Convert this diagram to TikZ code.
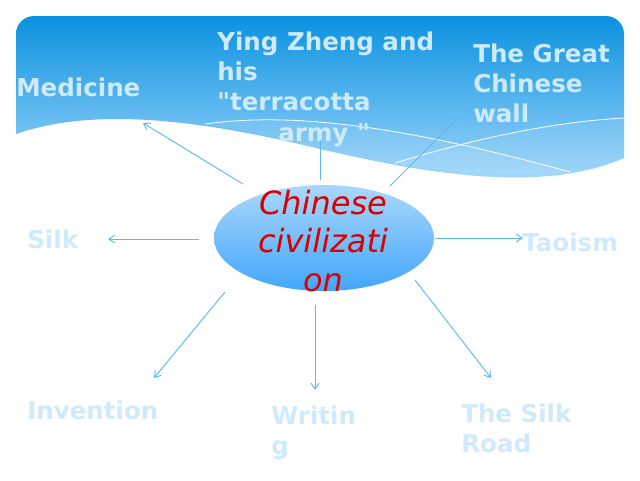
\documentclass[tikz,border=0pt]{standalone}
\usepackage{fontspec}
\usetikzlibrary{shapes.geometric,arrows.meta}
\setmainfont[Ligatures=TeXOff]{DejaVu Sans}
\definecolor{bandTop}{HTML}{0B92E0}
\definecolor{bandBottom}{HTML}{AADBFD}
\definecolor{eggTop}{HTML}{AAD8FC}
\definecolor{eggBottom}{HTML}{42A6FB}
\definecolor{labelBlue}{HTML}{CFEAFB}
\definecolor{lineBlue}{HTML}{5DB9EC}
\tikzset{
	topic/.style={anchor=north west, inner sep=0pt, align=left, text=labelBlue, font=\fontsize{18.4}{22.2}\selectfont\bfseries},
	link/.style={-{Straight Barb[length=4.5pt,width=6pt]}, color=lineBlue, line width=0.7pt},
	plainLink/.style={color=lineBlue, line width=0.7pt},
	waveLine/.style={white, line width=0.6pt},
}
\begin{document}
\begin{tikzpicture}[x=0.75pt,y=-0.75pt]
		\useasboundingbox (0,0) rectangle (640,480);
		% header band
		\shade[top color=bandTop, bottom color=bandBottom] (16,34) .. controls (16,24) and (24,16) .. (34,16) -- (606,16) .. controls (616,16) and (624,24) .. (624,34) -- (624,158) .. controls (540,195) and (420,172) .. (320,149) .. controls (170,112) and (80,112) .. (16,134) -- cycle;
		\fill[white, opacity=0.08] (205,124) .. controls (290,112) and (400,125) .. (570,172) .. controls (500,178) and (420,172) .. (320,149) .. controls (280,138) and (240,130) .. (205,124) -- cycle;
		\fill[white, opacity=0.08] (395,163) .. controls (470,140) and (550,122) .. (624,118) -- (624,158) .. controls (540,195) and (450,176) .. (395,163) -- cycle;
		\draw[waveLine] (205,124) .. controls (290,112) and (400,125) .. (570,172);
		\draw[waveLine] (395,163) .. controls (470,140) and (550,122) .. (624,118);
		% labels
		\node[topic] (medicine) at (16,78) {Medicine};
		\node[topic] (army) at (217,32) {Ying Zheng and\\his\\"terracotta};
		\node[topic] (armyEnd) at (278,123) {army "};
		\node[topic] (wall) at (473,44) {The Great\\Chinese\\wall};
		\node[topic] (silk) at (27,230) {Silk};
		\node[topic] (taoism) at (522,233) {Taoism};
		\node[topic] (invention) at (27,401) {Invention};
		\node[topic] (writing) at (271,406) {Writin\\g};
		\node[topic] (road) at (461,404) {The Silk\\Road};
		% centre
		\node[ellipse, minimum width=165pt, minimum height=79.5pt, inner sep=0pt, top color=eggTop, bottom color=eggBottom] (centre) at (324,238) {};
		\node[align=center, inner sep=0pt, text=red!85!black, font=\fontsize{24}{29}\selectfont\itshape] (title) at (323,241) {Chinese\\civilizati\\on};
		% free ends of the arrows
		\foreach \name/\x/\y in {a/243/184, b/143/123, c/199/239, d/108/239, e/225/292, f/154/378, g/315/305, h/315/390, i/415/280, j/491/378, k/435/238, l/523/238, m/320/180, n/320/140, o/390/186, p/470/106}
		\coordinate (\name) at (\x,\y);
		\foreach \from/\to in {a/b, c/d, e/f, g/h, i/j, k/l}
		\draw[link] (\from) -- (\to);
		\draw[plainLink] (m) -- (n);
		\draw[plainLink] (o) -- (p);
	\end{tikzpicture}
\end{document}
